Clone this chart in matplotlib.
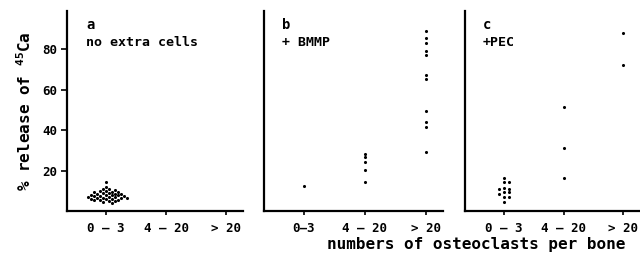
import numpy as np
import matplotlib
matplotlib.use("Agg")
import matplotlib.pyplot as plt

plt.rcParams['font.family'] = ['DejaVu Sans Mono', 'DejaVu Sans']
plt.rcParams['mathtext.fontset'] = 'custom'
plt.rcParams['mathtext.bf'] = 'DejaVu Sans Mono:bold'
plt.rcParams['mathtext.rm'] = 'DejaVu Sans Mono:bold'

categories = ["0 – 3", "4 – 20", "> 20"]
categories_b = ["0–3", "4 – 20", "> 20"]
panel_letters = ["a", "b", "c"]
panel_titles = ["no extra cells", "+ BMMP", "+PEC"]

# panel a: no extra cells (only 0-3 osteoclasts)
a_03 = [14.2, 11.8, 11.0, 10.8, 10.4, 10.0, 9.8, 9.6, 9.4, 9.2, 9.0, 8.8, 8.6, 8.5,
        8.3, 8.1, 8.0, 7.8, 7.7, 7.5, 7.4, 7.2, 7.0, 6.9, 6.8, 6.6, 6.5, 6.3, 6.2,
        6.0, 6.0, 5.8, 5.6, 5.5, 5.2, 5.0, 4.8, 4.4, 4.0]
a_420 = []
a_20 = []

# panel b: + BMMP
b_03 = [12.5]
b_420 = [28.0, 26.5, 24.5, 20.5, 14.2]
b_20 = [89.3, 85.5, 83.3, 79.3, 77.2, 67.2, 65.5, 49.5, 44.0, 41.5, 29.2]

# panel c: + PEC
c_03 = [16.2, 14.3, 14.3, 11.2, 11.0, 10.8, 9.5, 9.3, 8.2, 6.9, 6.9, 4.4]
c_420 = [51.4, 31.2, 16.5]
c_20 = [88.0, 72.4]

panels = [[a_03, a_420, a_20], [b_03, b_420, b_20], [c_03, c_420, c_20]]

W, H = 640, 259
fig = plt.figure(figsize=(W / 100, H / 100), dpi=100)
rects = [(67, 243), (264, 443), (465, 640)]
top_px, bot_px = 11, 211


def swarm(ax, xc, vals, thresh, step):
    trans = ax.transData
    placed = []
    xs = []
    for v in vals:
        px, py = trans.transform((xc, v))
        cands = [0]
        for i in range(1, 30):
            cands += [i * step, -i * step]
        for off in cands:
            ok = True
            for (qx, qy) in placed:
                if np.hypot(px + off - qx, py - qy) < thresh:
                    ok = False
                    break
            if ok:
                break
        placed.append((px + off, py))
        xs.append(trans.inverted().transform((px + off, py))[0])
    return xs


bold = dict(fontweight='bold')
axes = []
for i, (l, r) in enumerate(rects):
    ax = fig.add_axes([l / W, (H - bot_px) / H, (r - l) / W, (bot_px - top_px) / H])
    axes.append(ax)
    ax.set_xlim(0.35, 3.28)
    ax.set_ylim(0, 99)
    for s in ['top', 'right']:
        ax.spines[s].set_visible(False)
    for s in ['left', 'bottom']:
        ax.spines[s].set_linewidth(1.6)
        ax.spines[s].set_color('black')
    ax.set_xticks([1, 2, 3])
    ax.set_xticklabels(categories_b if i == 1 else categories, fontsize=9, **bold)
    ax.tick_params(axis='x', length=3, width=1.2, pad=5)
    if i == 0:
        ax.set_yticks([20, 40, 60, 80])
        ax.set_yticklabels(['20', '40', '60', '80'], fontsize=9, **bold)
        ax.tick_params(axis='y', length=4, width=1.2, pad=3)
        ax.set_ylabel(r'% release of $\mathbf{^{45}}$Ca', fontsize=11.5,
                      labelpad=6, **bold)
    else:
        ax.set_yticks([])
    ax.text(0.11 if i == 0 else 0.1, 0.93, panel_letters[i], transform=ax.transAxes,
            fontsize=10, va='center', ha='left', **bold)
    ax.text(0.11 if i == 0 else 0.1, 0.84, panel_titles[i], transform=ax.transAxes,
            fontsize=9.5, va='center', ha='left', **bold)

for i, ax in enumerate(axes):
    for j, vals in enumerate(panels[i]):
        if not vals:
            continue
        if i == 0:
            xs = swarm(ax, j + 1, vals, 3.4, 3.0)
        else:
            xs = swarm(ax, j + 1, vals, 3.0, 5.0)
        ax.scatter(xs, vals, s=5, color='black', marker='o', linewidths=0,
                   clip_on=False, zorder=3)

fig.text(476 / W, 1 - 245 / H, 'numbers of osteoclasts per bone', fontsize=11.5,
         ha='center', va='center', **bold)

fig.savefig('out.png', dpi=100)
